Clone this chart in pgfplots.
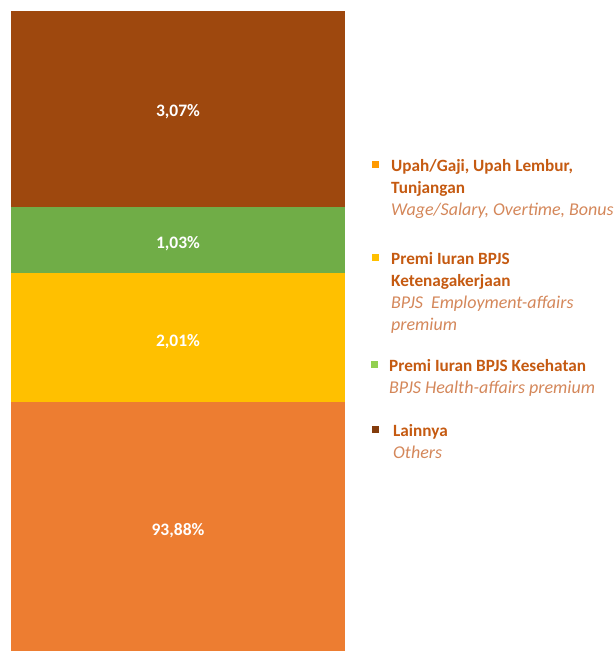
\documentclass[border=0pt]{standalone}
\usepackage{pgfplots}
\pgfplotsset{compat=1.18}
\usepackage{fontspec}
\setmainfont{Carlito}

\definecolor{barorange}{HTML}{ED7D31}
\definecolor{baryellow}{HTML}{FFC000}
\definecolor{bargreen}{HTML}{70AD47}
\definecolor{barbrown}{HTML}{9E480E}
\definecolor{legorange}{HTML}{FF9A00}
\definecolor{legyellow}{HTML}{FFC000}
\definecolor{leggreen}{HTML}{92D050}
\definecolor{legbrown}{HTML}{843C0C}
\definecolor{txtbold}{HTML}{C55A11}
\definecolor{txtital}{HTML}{D4875A}

\tikzset{seglabel/.style={font=\fontsize{17.5bp}{20bp}\selectfont\bfseries, text=white, yshift=-3.5bp}}

% legend entry: bold Indonesian lines, italic English lines
\newcommand{\entry}[2]{\parbox[t]{230bp}{\fontsize{17.2bp}{22bp}\selectfont
  \leavevmode{\color{txtbold}\bfseries #1}\\{\color{txtital}\fontsize{18bp}{21.5bp}\selectfont\itshape #2}}}

\begin{document}
\begin{tikzpicture}
\path[use as bounding box] (0,0) rectangle (615bp,651bp);
\begin{axis}[
    at={(11bp,0bp)}, anchor=south west,
    scale only axis, width=334bp, height=641bp,
    ybar stacked, bar width=1,
    xmin=-0.5, xmax=0.5,
    ymin=90, ymax=100,   % bar starts at 90 %
    hide axis,
]
\addplot[fill=barorange, draw=none] coordinates {(0,93.88)};
\addplot[fill=baryellow, draw=none] coordinates {(0,2.01)};
\addplot[fill=bargreen, draw=none] coordinates {(0,1.03)};
\addplot[fill=barbrown, draw=none] coordinates {(0,3.07)};
% middle of each visible segment
\coordinate (s1) at (axis cs:0,91.94);
\coordinate (s2) at (axis cs:0,94.885);
\coordinate (s3) at (axis cs:0,96.405);
\coordinate (s4) at (axis cs:0,98.465);
\end{axis}
\node[seglabel] at (s1) {93,88\%};
\node[seglabel] at (s2) {2,01\%};
\node[seglabel] at (s3) {1,03\%};
\node[seglabel] at (s4) {3,07\%};
% legend
\fill[legorange] (372bp,483bp) rectangle (379bp,490bp);
\node[anchor=base west, inner sep=0pt] at (391bp,479bp)
    {\entry{Upah/Gaji, Upah Lembur,\\Tunjangan}{Wage/Salary, Overtime, Bonus}};
\fill[legyellow] (372bp,390bp) rectangle (379bp,397bp);
\node[anchor=base west, inner sep=0pt] at (391bp,386bp)
    {\entry{Premi Iuran BPJS\\Ketenagakerjaan}{BPJS\ \ Employment-affairs\\premium}};
\fill[leggreen] (371bp,283bp) rectangle (378bp,290bp);
\node[anchor=base west, inner sep=0pt] at (389bp,279bp)
    {\entry{Premi Iuran BPJS Kesehatan}{BPJS Health-affairs premium}};
\fill[legbrown] (372bp,218bp) rectangle (379bp,225bp);
\node[anchor=base west, inner sep=0pt] at (393bp,214bp)
    {\entry{Lainnya}{Others}};
\end{tikzpicture}
\end{document}
